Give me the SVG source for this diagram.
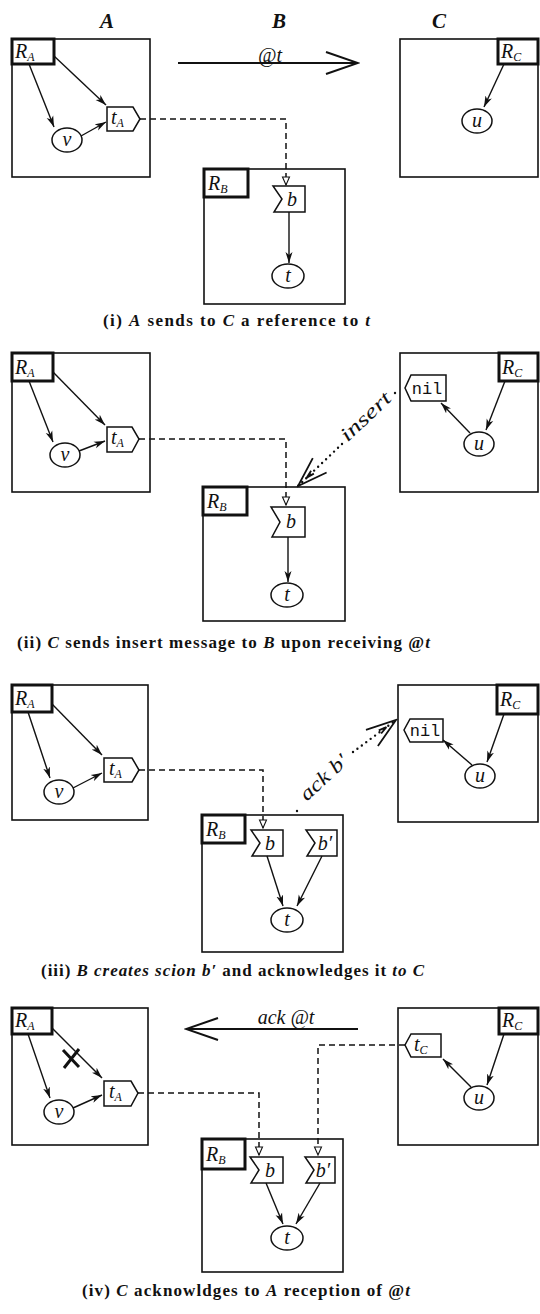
<svg xmlns="http://www.w3.org/2000/svg" width="540" height="1314" viewBox="0 0 540 1314">
<style>
text{font-family:"Liberation Serif","DejaVu Serif",serif;fill:#111}
.box{fill:none;stroke:#111;stroke-width:1.6}
.rbox{fill:#fff;stroke:#111;stroke-width:3}
.node{fill:#fff;stroke:#111;stroke-width:1.5}
.lab{font-size:20px;font-style:italic}
.sub{font-size:12px;font-style:italic}
.mono{font-family:"Liberation Mono","DejaVu Sans Mono",monospace;font-size:17px}
.hdr{font-size:21px;font-style:italic;font-weight:bold;text-anchor:middle}
.cap{font-size:17px;font-weight:bold}
.it{font-style:italic}
.arr{fill:none;stroke:#111;stroke-width:1.4;marker-end:url(#fa)}
.dash{fill:none;stroke:#111;stroke-width:1.5;stroke-dasharray:6 4;marker-end:url(#sa)}
.dot{fill:none;stroke:#111;stroke-width:2.4;stroke-linecap:round;stroke-dasharray:0 5.5}
.msg{fill:none;stroke:#111;stroke-width:2;marker-end:url(#oa)}
.cross{stroke:#111;stroke-width:3;fill:none}
</style>
<defs>
<marker id="fa" markerUnits="userSpaceOnUse" viewBox="-11 -4 12 8" refX="0" refY="0" markerWidth="12" markerHeight="8" orient="auto">
<path d="M-11,-3.5 L0,0 L-11,3.5 L-8,0 Z" fill="#111"/>
</marker>
<marker id="sa" markerUnits="userSpaceOnUse" viewBox="-9 -5 10 10" refX="0" refY="0" markerWidth="10" markerHeight="10" orient="auto">
<path d="M-8,-3.5 L0,0 L-8,3.5 Z" fill="#fff" stroke="#111" stroke-width="1.1"/>
</marker>
<marker id="oa" markerUnits="userSpaceOnUse" viewBox="-34 -14 36 28" refX="0" refY="0" markerWidth="36" markerHeight="28" orient="auto">
<path d="M-32,-11 L0,0 L-32,11" fill="none" stroke="#111" stroke-width="2"/>
</marker>
<marker id="da" markerUnits="userSpaceOnUse" viewBox="-34 -14 36 28" refX="0" refY="0" markerWidth="36" markerHeight="28" orient="auto">
<path d="M-30,-10 L0,0 L-30,10 M-20,-2 L-12,0 L-20,2" fill="none" stroke="#111" stroke-width="1.8"/>
</marker>
</defs>

<g id="headers">
<text class="hdr" x="107" y="28">A</text>
<text class="hdr" x="279" y="28">B</text>
<text class="hdr" x="439" y="28">C</text>
</g>

<!-- ============ PANEL 1 ============ -->
<g id="p1-siteA">
<rect class="box" x="12" y="39" width="138" height="138"/>
<g id="p1-RA"><rect class="rbox" x="12" y="39" width="42" height="25"/><text class="lab" x="15" y="58">R<tspan class="sub" dy="3">A</tspan></text></g>
<g id="p1-v"><ellipse class="node" cx="67" cy="140" rx="15" ry="12"/><text class="lab" x="67" y="146" text-anchor="middle">v</text></g>
<g id="p1-tA"><path class="node" d="M107,107 H133 L140,119 L133,131 H107 Z"/><text class="lab" x="111" y="124">t<tspan class="sub" dy="3">A</tspan></text></g>
</g>
<g id="p1-siteC">
<rect class="box" x="400" y="39" width="138" height="138"/>
<g id="p1-RC"><rect class="rbox" x="498" y="39" width="40" height="25"/><text class="lab" x="501" y="58">R<tspan class="sub" dy="3">C</tspan></text></g>
<g id="p1-u"><ellipse class="node" cx="477" cy="121" rx="15" ry="12"/><text class="lab" x="477" y="127" text-anchor="middle">u</text></g>
</g>
<g id="p1-siteB">
<rect class="box" x="204" y="169" width="141" height="135"/>
<g id="p1-RB"><rect class="rbox" x="204" y="169" width="44" height="28"/><text class="lab" x="208" y="190">R<tspan class="sub" dy="3">B</tspan></text></g>
<g id="p1-b"><path class="node" d="M273,186 H305 V212 H274 L282,199 Z"/><text class="lab" x="292" y="206" text-anchor="middle">b</text></g>
<g id="p1-t"><ellipse class="node" cx="288" cy="276" rx="16" ry="12"/><text class="lab" x="288" y="282" text-anchor="middle">t</text></g>
</g>
<g id="p1-connectors">
<path class="arr" d="M29,64 L54,127"/>
<path class="arr" d="M54,56 L106,105"/>
<path class="arr" d="M81,136 L106,122"/>
<path class="arr" d="M504,64 L484,107"/>
<path class="arr" d="M289,212 L289,263"/>
<path class="dash" d="M140,119 H286 V185"/>
<path class="msg" d="M178,63 H358"/>
<text class="lab" x="270" y="62" text-anchor="middle">@<tspan class="it">t</tspan></text>
</g>
<text class="cap" x="103" y="326" textLength="267">(i) <tspan class="it">A</tspan> sends to <tspan class="it">C</tspan> a reference to <tspan class="it">t</tspan></text>

<!-- ============ PANEL 2 ============ -->
<g id="p2-siteA">
<rect class="box" x="12" y="353" width="138" height="139"/>
<g id="p2-RA"><rect class="rbox" x="12" y="353" width="41" height="28"/><text class="lab" x="15" y="374">R<tspan class="sub" dy="3">A</tspan></text></g>
<g id="p2-v"><ellipse class="node" cx="65" cy="455" rx="15" ry="12"/><text class="lab" x="65" y="461" text-anchor="middle">v</text></g>
<g id="p2-tA"><path class="node" d="M107,427 H132 L139,439 L132,452 H107 Z"/><text class="lab" x="111" y="444">t<tspan class="sub" dy="3">A</tspan></text></g>
</g>
<g id="p2-siteC">
<rect class="box" x="400" y="353" width="138" height="139"/>
<g id="p2-RC"><rect class="rbox" x="499" y="353" width="39" height="28"/><text class="lab" x="502" y="374">R<tspan class="sub" dy="3">C</tspan></text></g>
<g id="p2-nil"><path class="node" d="M411,375 H446 V401 H411 L405,388 Z"/><text class="mono" x="427" y="394" text-anchor="middle">nil</text></g>
<g id="p2-u"><ellipse class="node" cx="479" cy="444" rx="15" ry="12"/><text class="lab" x="479" y="450" text-anchor="middle">u</text></g>
</g>
<g id="p2-siteB">
<rect class="box" x="203" y="487" width="142" height="134"/>
<g id="p2-RB"><rect class="rbox" x="203" y="487" width="44" height="28"/><text class="lab" x="207" y="508">R<tspan class="sub" dy="3">B</tspan></text></g>
<g id="p2-b"><path class="node" d="M271,507 H305 V537 H272 L280,522 Z"/><text class="lab" x="291" y="528" text-anchor="middle">b</text></g>
<g id="p2-t"><ellipse class="node" cx="287" cy="595" rx="16" ry="12"/><text class="lab" x="287" y="601" text-anchor="middle">t</text></g>
</g>
<g id="p2-connectors">
<path class="arr" d="M29,381 L53,442"/>
<path class="arr" d="M53,372 L105,425"/>
<path class="arr" d="M79,451 L105,441"/>
<path class="arr" d="M505,381 L486,430"/>
<path class="arr" d="M470,433 L441,403"/>
<path class="arr" d="M288,537 L288,582"/>
<path class="dash" d="M139,439 H286 V505"/>
<path class="dot" d="M342,444 L298,486" style="marker-end:url(#da)"/>
<path class="dot" d="M395,393 L396,392"/>
<text class="lab" transform="translate(368,419) rotate(-43.5)" text-anchor="middle" y="3" textLength="62" lengthAdjust="spacingAndGlyphs">insert</text>
</g>
<text class="cap" x="17" y="648" textLength="413">(ii) <tspan class="it">C</tspan> sends insert message to <tspan class="it">B</tspan> upon receiving @<tspan class="it">t</tspan></text>

<!-- ============ PANEL 3 ============ -->
<g id="p3-siteA">
<rect class="box" x="12" y="685" width="136" height="135"/>
<g id="p3-RA"><rect class="rbox" x="12" y="685" width="40" height="27"/><text class="lab" x="15" y="705">R<tspan class="sub" dy="3">A</tspan></text></g>
<g id="p3-v"><ellipse class="node" cx="59" cy="792" rx="15" ry="12"/><text class="lab" x="59" y="798" text-anchor="middle">v</text></g>
<g id="p3-tA"><path class="node" d="M104,758 H132 L139,770 L132,782 H104 Z"/><text class="lab" x="109" y="775">t<tspan class="sub" dy="3">A</tspan></text></g>
</g>
<g id="p3-siteC">
<rect class="box" x="398" y="685" width="140" height="137"/>
<g id="p3-RC"><rect class="rbox" x="497" y="685" width="41" height="29"/><text class="lab" x="500" y="706">R<tspan class="sub" dy="3">C</tspan></text></g>
<g id="p3-nil"><path class="node" d="M410,719 H443 V742 H410 L404,730 Z"/><text class="mono" x="425" y="736" text-anchor="middle">nil</text></g>
<g id="p3-u"><ellipse class="node" cx="480" cy="776" rx="15" ry="12"/><text class="lab" x="480" y="782" text-anchor="middle">u</text></g>
</g>
<g id="p3-siteB">
<rect class="box" x="202" y="815" width="141" height="137"/>
<g id="p3-RB"><rect class="rbox" x="202" y="815" width="43" height="28"/><text class="lab" x="206" y="836">R<tspan class="sub" dy="3">B</tspan></text></g>
<g id="p3-b"><path class="node" d="M251,830 H283 V856 H252 L260,843 Z"/><text class="lab" x="270" y="850" text-anchor="middle">b</text></g>
<g id="p3-b2"><path class="node" d="M306,830 H337 V856 H307 L315,843 Z"/><text class="lab" x="325" y="850" text-anchor="middle">b′</text></g>
<g id="p3-t"><ellipse class="node" cx="287" cy="920" rx="16" ry="12"/><text class="lab" x="287" y="926" text-anchor="middle">t</text></g>
</g>
<g id="p3-connectors">
<path class="arr" d="M28,712 L50,778"/>
<path class="arr" d="M52,704 L102,755"/>
<path class="arr" d="M73,788 L102,773"/>
<path class="arr" d="M504,714 L487,762"/>
<path class="arr" d="M472,765 L443,740"/>
<path class="arr" d="M267,856 L283,906"/>
<path class="arr" d="M322,856 L297,906"/>
<path class="dash" d="M139,770 H263 V828"/>
<path class="dot" d="M297,811 L298,810"/>
<path class="dot" d="M353,752 L396,720" style="marker-end:url(#da)"/>
<text class="lab" transform="translate(326,780) rotate(-42.6)" text-anchor="middle" y="3" textLength="58" lengthAdjust="spacingAndGlyphs">ack b′</text>
</g>
<text class="cap" x="41" y="976" textLength="383">(iii) <tspan class="it">B creates scion b′</tspan> and acknowledges it <tspan class="it">to C</tspan></text>

<!-- ============ PANEL 4 ============ -->
<g id="p4-siteA">
<rect class="box" x="12" y="1008" width="136" height="137"/>
<g id="p4-RA"><rect class="rbox" x="12" y="1008" width="40" height="26"/><text class="lab" x="15" y="1027">R<tspan class="sub" dy="3">A</tspan></text></g>
<g id="p4-v"><ellipse class="node" cx="59" cy="1112" rx="15" ry="12"/><text class="lab" x="59" y="1118" text-anchor="middle">v</text></g>
<g id="p4-tA"><path class="node" d="M104,1081 H131 L138,1093 L131,1106 H104 Z"/><text class="lab" x="109" y="1098">t<tspan class="sub" dy="3">A</tspan></text></g>
</g>
<g id="p4-siteC">
<rect class="box" x="398" y="1008" width="140" height="137"/>
<g id="p4-RC"><rect class="rbox" x="499" y="1008" width="39" height="26"/><text class="lab" x="502" y="1027">R<tspan class="sub" dy="3">C</tspan></text></g>
<g id="p4-tC"><path class="node" d="M411,1034 H441 V1057 H411 L405,1045 Z"/><text class="lab" x="414" y="1051">t<tspan class="sub" dy="3">C</tspan></text></g>
<g id="p4-u"><ellipse class="node" cx="479" cy="1098" rx="15" ry="12"/><text class="lab" x="479" y="1104" text-anchor="middle">u</text></g>
</g>
<g id="p4-siteB">
<rect class="box" x="202" y="1139" width="141" height="133"/>
<g id="p4-RB"><rect class="rbox" x="202" y="1139" width="43" height="30"/><text class="lab" x="206" y="1161">R<tspan class="sub" dy="3">B</tspan></text></g>
<g id="p4-b"><path class="node" d="M250,1157 H283 V1183 H251 L259,1170 Z"/><text class="lab" x="270" y="1177" text-anchor="middle">b</text></g>
<g id="p4-b2"><path class="node" d="M305,1157 H335 V1183 H306 L314,1170 Z"/><text class="lab" x="323" y="1177" text-anchor="middle">b′</text></g>
<g id="p4-t"><ellipse class="node" cx="287" cy="1238" rx="16" ry="12"/><text class="lab" x="287" y="1244" text-anchor="middle">t</text></g>
</g>
<g id="p4-connectors">
<path class="arr" d="M28,1034 L50,1098"/>
<path class="arr" d="M52,1028 L102,1078"/>
<path class="arr" d="M73,1108 L102,1095"/>
<path class="arr" d="M504,1034 L487,1085"/>
<path class="arr" d="M471,1087 L443,1059"/>
<path class="arr" d="M266,1183 L283,1224"/>
<path class="arr" d="M320,1183 L296,1224"/>
<path class="cross" d="M63,1050 L79,1067 M79,1049 L64,1068"/>
<path class="dash" d="M138,1093 H259 V1155"/>
<path class="dash" d="M405,1045 H318 V1155"/>
<path class="msg" d="M358,1029 H186"/>
<text class="lab" x="286" y="1024" text-anchor="middle" font-size="21"><tspan class="it">ack</tspan> @<tspan class="it">t</tspan></text>
</g>
<text class="cap" x="82" y="1296" textLength="328">(iv) <tspan class="it">C</tspan> acknowldges to <tspan class="it">A</tspan> reception of @<tspan class="it">t</tspan></text>
</svg>
